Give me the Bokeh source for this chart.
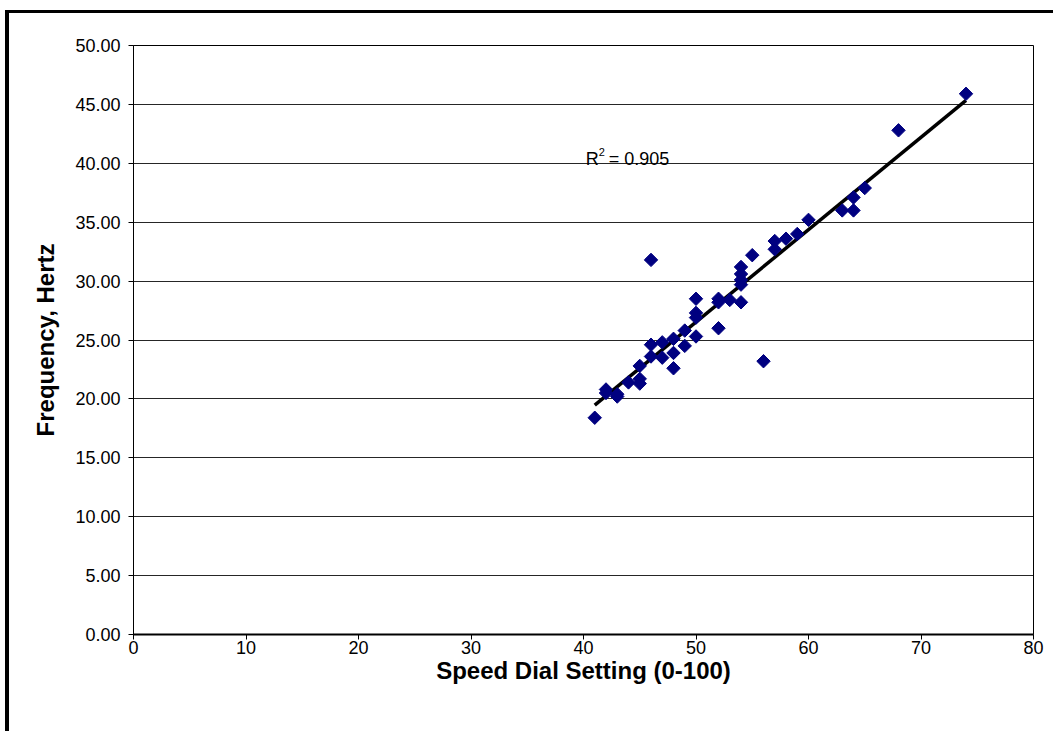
import numpy as np
from bokeh.plotting import figure
from bokeh.models import ColumnDataSource, Range1d, NumeralTickFormatter, Label
from bokeh.embed import file_html
from bokeh.resources import INLINE

# Speed dial readings and the measured frequency at each setting
dial = [41, 42, 42, 43, 43, 44, 45, 45, 45, 46, 46, 46, 47, 47, 48, 48, 48,
        49, 49, 50, 50, 50, 50, 52, 52, 52, 53, 54, 54, 54, 54, 54, 55, 56,
        57, 57, 58, 59, 60, 63, 64, 64, 65, 68, 74]
freq = [18.4, 20.8, 20.5, 20.2, 20.4, 21.4, 21.3, 21.7, 22.8, 23.6, 24.6,
        31.8, 23.5, 24.8, 22.6, 23.9, 25.1, 24.5, 25.8, 25.3, 26.9, 27.3,
        28.5, 26.0, 28.2, 28.5, 28.4, 28.2, 29.7, 30.1, 30.6, 31.2, 32.2,
        23.2, 32.7, 33.4, 33.6, 34.0, 35.2, 36.0, 36.0, 37.1, 37.9, 42.8, 45.9]
r_squared = 0.905

x_ticks = list(range(0, 81, 10))
y_ticks = list(range(0, 51, 5))

FONT = "Liberation Sans"

p = figure(
    width=1048, height=721,
    x_range=Range1d(0, 80), y_range=Range1d(0, 50),
    output_backend="svg", toolbar_location=None,
    min_border_left=124, min_border_right=24,
    min_border_top=32, min_border_bottom=100,
    background_fill_color="white", border_fill_color="white",
)
p.styles = {
    "border-top": "3px solid #000",
    "border-left": "4px solid #000",
    "margin-left": "5px",
    "margin-top": "10px",
}

p.outline_line_color = "black"
p.outline_line_width = 1
p.outline_line_alpha = 1

# horizontal gridlines only
p.xgrid.visible = False
p.ygrid.ticker = y_ticks
p.ygrid.grid_line_color = "black"
p.ygrid.grid_line_width = 1
p.ygrid.grid_line_alpha = 0.85

for ax in (p.xaxis, p.yaxis):
    ax.axis_line_color = "black"
    ax.major_tick_line_color = "black"
    ax.major_tick_in = 0
    ax.major_tick_out = 5
    ax.minor_tick_line_color = None
    ax.major_label_text_font = FONT
    ax.major_label_text_font_size = "18px"
    ax.major_label_text_color = "black"
    ax.axis_label_text_font = FONT
    ax.axis_label_text_font_size = "24px"
    ax.axis_label_text_font_style = "bold"
    ax.axis_label_text_color = "black"

p.xaxis.ticker = x_ticks
p.yaxis.ticker = y_ticks
p.yaxis.formatter = NumeralTickFormatter(format="0.00")
p.xaxis.axis_line_width = 2
p.xaxis.major_label_standoff = 1
p.yaxis.major_label_standoff = 8
p.xaxis.axis_label_standoff = 0
p.yaxis.axis_label_standoff = 13
p.xaxis.axis_label = "Speed Dial Setting (0-100)"
p.yaxis.axis_label = "Frequency, Hertz"

# linear trendline fitted to the readings
xs = np.array(dial, dtype=float)
ys = np.array(freq, dtype=float)
slope, intercept = np.polyfit(xs, ys, 1)
x_fit = np.array([xs.min(), xs.max()])
p.line(x_fit, slope * x_fit + intercept, line_color="black", line_width=3.5)

src = ColumnDataSource(data=dict(x=dial, y=freq))
p.scatter("x", "y", source=src, marker="square", angle=np.pi / 4, size=9.5,
          fill_color="#000080", line_color="#000080")

# R² annotation
lx, ly = 40.2, 40.35
p.add_layout(Label(x=lx, y=ly, text="R", text_font=FONT, text_font_size="18px",
                   text_color="black", text_baseline="alphabetic"))
p.add_layout(Label(x=lx, y=ly, x_offset=13, y_offset=7, text="2", text_font=FONT,
                   text_font_size="11px", text_color="black",
                   text_baseline="alphabetic"))
p.add_layout(Label(x=lx, y=ly, x_offset=23, text="= %.3f" % r_squared,
                   text_font=FONT, text_font_size="18px", text_color="black",
                   text_baseline="alphabetic"))

open("out.html", "w").write(file_html(p, INLINE))
